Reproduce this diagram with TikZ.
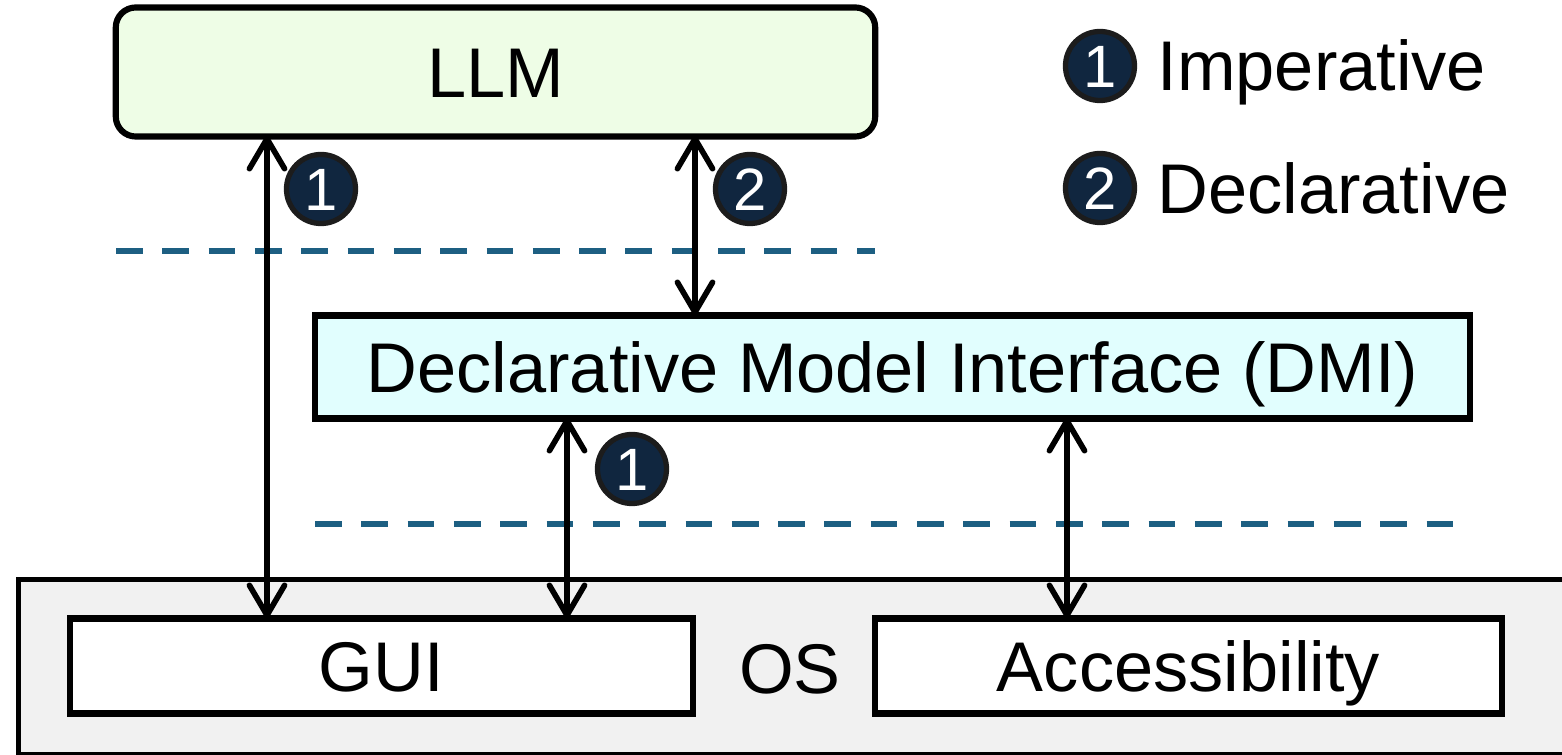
\documentclass[tikz,border=0pt]{standalone}
\usepackage{fontspec}
\setmainfont{Liberation Sans}
\usetikzlibrary{arrows.meta}
\definecolor{llmfill}{HTML}{EEFDE6}
\definecolor{dmifill}{HTML}{E1FEFE}
\definecolor{osfill}{HTML}{F1F1F1}
\definecolor{dashblue}{HTML}{1D5F82}
\definecolor{badgefill}{HTML}{10263F}
\definecolor{badgeedge}{HTML}{1C1C1C}
\tikzset{
  x=0.01cm, y=-0.01cm,
  % text is centred on its capital height
  captext/.style={font=\fontsize{20}{24}\selectfont, text height=14.3pt, text depth=0pt},
  box/.style={draw=black, line width=1.75pt, inner sep=0pt, captext},
  layer/.style={draw=dashblue, line width=1.8pt, dash pattern=on 7.6pt off 5.57pt},
  barbtip/.tip={Straight Barb[length=8.5pt,width=10pt,line width=1.6pt,line cap=round,round]},
  link/.style={line width=1.6pt, barbtip-barbtip},
  badge/.style={circle, fill=badgefill, draw=badgeedge, line width=1.5pt, minimum size=0.69cm, inner sep=0pt, text=white, font=\fontsize{17}{17}\selectfont, text height=12.2pt, text depth=0pt},
  legend/.style={anchor=west, inner sep=0pt, captext}
}
\begin{document}
\begin{tikzpicture}
\useasboundingbox (0,0) rectangle (1562,755);
% operating system layer (runs past the right edge)
\node[box, fill=osfill, line width=1.5pt, minimum width=15.64cm, minimum height=1.75cm, anchor=north west] (os) at (16,577) {};
\node[captext, inner sep=0pt] (ostext) at (790,668) {OS};
\node[box, fill=white, minimum width=6.23cm, minimum height=0.95cm] (gui) at (381.5,666) {GUI};
\node[box, fill=white, minimum width=6.27cm, minimum height=0.95cm] (acc) at (1188.5,666) {Accessibility};
% model and interface
\node[box, fill=llmfill, rounded corners=0.2cm, minimum width=7.59cm, minimum height=1.29cm] (llm) at (495.5,72) {LLM};
\node[box, fill=dmifill, minimum width=11.55cm, minimum height=1.03cm] (dmi) at (892.5,367) {Declarative Model Interface (DMI)};
% layer boundaries
\draw[layer] (116,251) -- (875,251);
\draw[layer] (315,524) -- (1455,524);
% connections
\coordinate (a1t) at (267,136);
\coordinate (a1b) at (267,618);
\coordinate (a2t) at (695,136);
\coordinate (a2b) at (695,315);
\coordinate (a3t) at (567,418);
\coordinate (a3b) at (567,618);
\coordinate (a4t) at (1067,418);
\coordinate (a4b) at (1067,618);
\draw[link] (a1t) -- (a1b);
\draw[link] (a2t) -- (a2b);
\draw[link] (a3t) -- (a3b);
\draw[link] (a4t) -- (a4b);
% badges
\node[badge] (b1) at (321,189) {1};
\node[badge] (b2) at (750,189) {2};
\node[badge] (b3) at (632,469) {1};
% legend
\node[badge] (l1) at (1100,66) {1};
\node[legend] (l1t) at (1157,65) {Imperative};
\node[badge] (l2) at (1100,188) {2};
\node[legend] (l2t) at (1157,188) {Declarative};
\end{tikzpicture}
\end{document}
